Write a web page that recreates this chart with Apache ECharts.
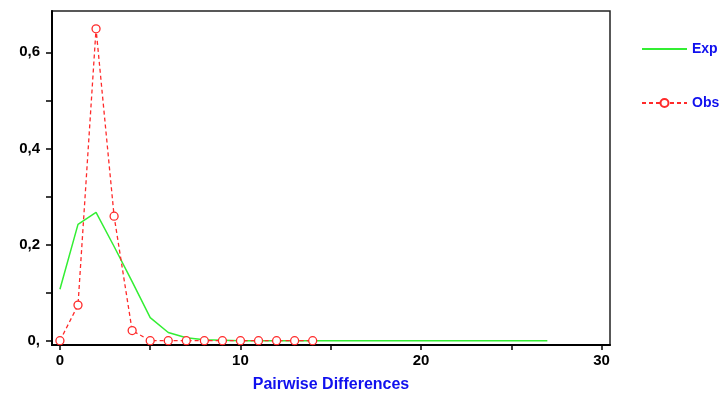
<!DOCTYPE html>
<html><head><meta charset="utf-8">
<script src="https://cdn.jsdelivr.net/npm/echarts@6/dist/echarts.min.js"></script>
<style>html,body{margin:0;padding:0;background:#fff}#c{width:723px;height:394px}</style>
</head><body><div id="c"></div>
<script>
const xExp = [0,1,2,3,4,5,6,7,8,9,10,11,12,13,14,15,16,17,18,19,20,21,22,23,24,25,26,27];
const yExp = [0.107,0.242,0.267,0.196,0.123,0.048,0.017,0.006,0.002,0.001,0,0,0,0,0,0,0,0,0,0,0,0,0,0,0,0,0,0];
const xObs = [0,1,2,3,4,5,6,7,8,9,10,11,12,13,14];
const yObs = [0,0.074,0.649,0.259,0.021,0,0,0,0,0,0,0,0,0,0];
const xTicks = [0,5,10,15,20,25,30];
const xLabels = [0,10,20,30];
const yTicks = [0,0.1,0.2,0.3,0.4,0.5,0.6];
const yLabels = [0,0.2,0.4,0.6];
const xTitle = 'Pairwise Differences';

const chart = echarts.init(document.getElementById('c'));
const lab = {fontFamily:'Liberation Sans, Arial', fontWeight:'bold', fontSize:15, color:'#000'};
chart.setOption({
  animation:false,
  grid:{left:52, top:11, right:113, bottom:49, show:true, borderColor:'#222', borderWidth:1.5,
        containLabel:false, outerBoundsMode:'none'},
  legend:{
    orient:'vertical', left:636, top:37, itemWidth:45, itemHeight:10, itemGap:40,
    textStyle:{fontFamily:'Liberation Sans, Arial', fontWeight:'bold', fontSize:14, color:'#1010ee'},
    data:[{name:'Exp', itemStyle:{opacity:0}}, {name:'Obs'}]
  },
  xAxis:{
    type:'value', min:-0.44, max:30.47,
    axisLine:{show:true, onZero:false, lineStyle:{color:'#000', width:2}},
    axisTick:{show:true, inside:false, length:5, customValues:xTicks, lineStyle:{color:'#000', width:1.5}},
    axisLabel:{customValues:xLabels, margin:8, ...lab},
    splitLine:{show:false},
    name:xTitle, nameLocation:'middle', nameGap:32,
    nameTextStyle:{fontFamily:'Liberation Sans, Arial', fontWeight:'bold', fontSize:16, color:'#1010ee'}
  },
  yAxis:{
    type:'value', min:-0.009, max:0.686,
    axisLine:{show:true, onZero:false, lineStyle:{color:'#000', width:2}},
    axisTick:{show:true, inside:false, length:6, customValues:yTicks, lineStyle:{color:'#000', width:1.5}},
    axisLabel:{customValues:yLabels, margin:12, ...lab,
      formatter:v=> v===0 ? '0,' : String(Math.round(v*10)/10).replace('.',',')},
    splitLine:{show:false}
  },
  series:[
    {name:'Exp', type:'line', data:xExp.map((x,i)=>[x,yExp[i]]), symbol:'none',
     lineStyle:{color:'#33ee33', width:1.5}, itemStyle:{color:'#33ee33'}, z:2},
    {name:'Obs', type:'line', data:xObs.map((x,i)=>[x,yObs[i]]), symbol:'circle', symbolSize:8,
     lineStyle:{color:'#ff2a2a', width:1.3, type:[4,3]},
     itemStyle:{color:'#ffffff', borderColor:'#ff2a2a', borderWidth:1.3}, z:3}
  ]
});
</script></body></html>
